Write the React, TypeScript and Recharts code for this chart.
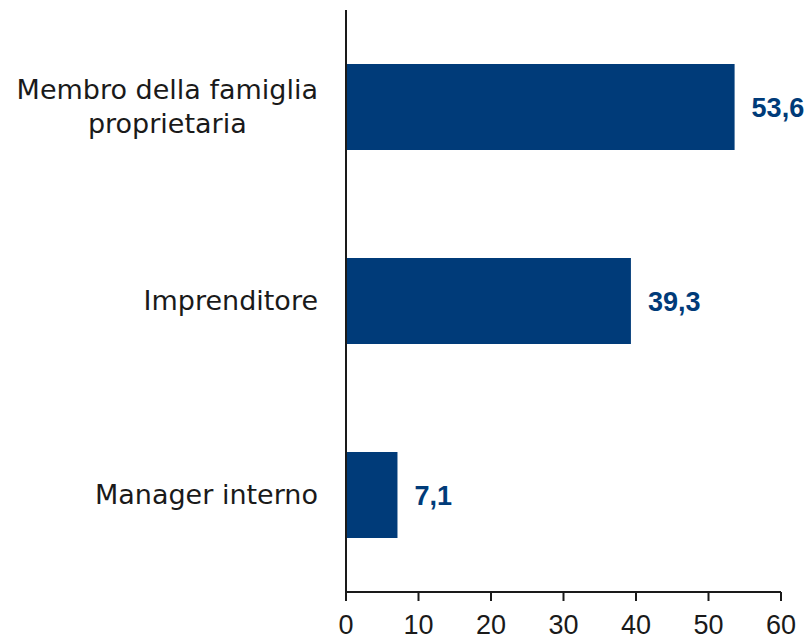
import React from 'react';
import { BarChart, Bar, XAxis, YAxis, LabelList } from 'recharts';

const categories = ['Membro della famiglia\nproprietaria', 'Imprenditore', 'Manager interno'];
const values = [53.6, 39.3, 7.1];
const xTicks = [0, 10, 20, 30, 40, 50, 60];

const data = categories.map((c, i) => ({ name: c, value: values[i] }));

const FONT = 'DejaVu Sans';
const TICK_FONT = '"Liberation Sans", Arial, sans-serif';
const VALUE_FONT = '"Liberation Sans Narrow", "Liberation Sans", Arial, sans-serif';
const BLUE = '#003B79';
const INK = '#1a1a1a';

let ctx: CanvasRenderingContext2D | null = null;
function measure(t: string, size: number) {
  if (!ctx) ctx = document.createElement('canvas').getContext('2d');
  if (!ctx) return t.length * size * 0.6;
  ctx.font = `${size}px "${FONT}"`;
  return ctx.measureText(t).width;
}

const CatTick = (props: any) => {
  const { x, y, payload } = props;
  const lines = String(payload.value).split('\n');
  const size = 27;
  const lh = 34;
  const maxW = Math.max(...lines.map((l) => measure(l, size)));
  const cx = x - 20 - maxW / 2;
  const startY = y - ((lines.length - 1) * lh) / 2;
  return (
    <g>
      {lines.map((l, i) => (
        <text key={i} x={cx} y={startY + i * lh} dy="0.35em" textAnchor="middle" fontSize={size} fontFamily={FONT} fill={INK}>
          {l}
        </text>
      ))}
    </g>
  );
};

export default function App() {
  return (
    <div style={{ position: 'absolute', left: 0, top: 0, background: '#fff' }}>
      <BarChart width={806} height={640} data={data} layout="vertical" margin={{ top: 10, right: 25, bottom: 0, left: 0 }}>
        <XAxis
          type="number"
          domain={[0, 60]}
          ticks={xTicks}
          interval={0}
          height={48}
          axisLine={{ stroke: INK, strokeWidth: 2 }}
          tickLine={{ stroke: INK, strokeWidth: 2 }}
          tickSize={9}
          tick={{ fontSize: 27, fontFamily: TICK_FONT, fill: INK, dy: 12 }}
        />
        <YAxis
          type="category"
          dataKey="name"
          width={346}
          axisLine={{ stroke: INK, strokeWidth: 2 }}
          tickLine={false}
          tick={<CatTick />}
          interval={0}
        />
        <Bar dataKey="value" fill={BLUE} barSize={86} isAnimationActive={false}>
          <LabelList
            dataKey="value"
            position="right"
            offset={17}
            formatter={(v: any) => String(v).replace('.', ',')}
            style={{ fontSize: 27, fontWeight: 'bold', fontFamily: VALUE_FONT, fill: BLUE }}
          />
        </Bar>
      </BarChart>
    </div>
  );
}
